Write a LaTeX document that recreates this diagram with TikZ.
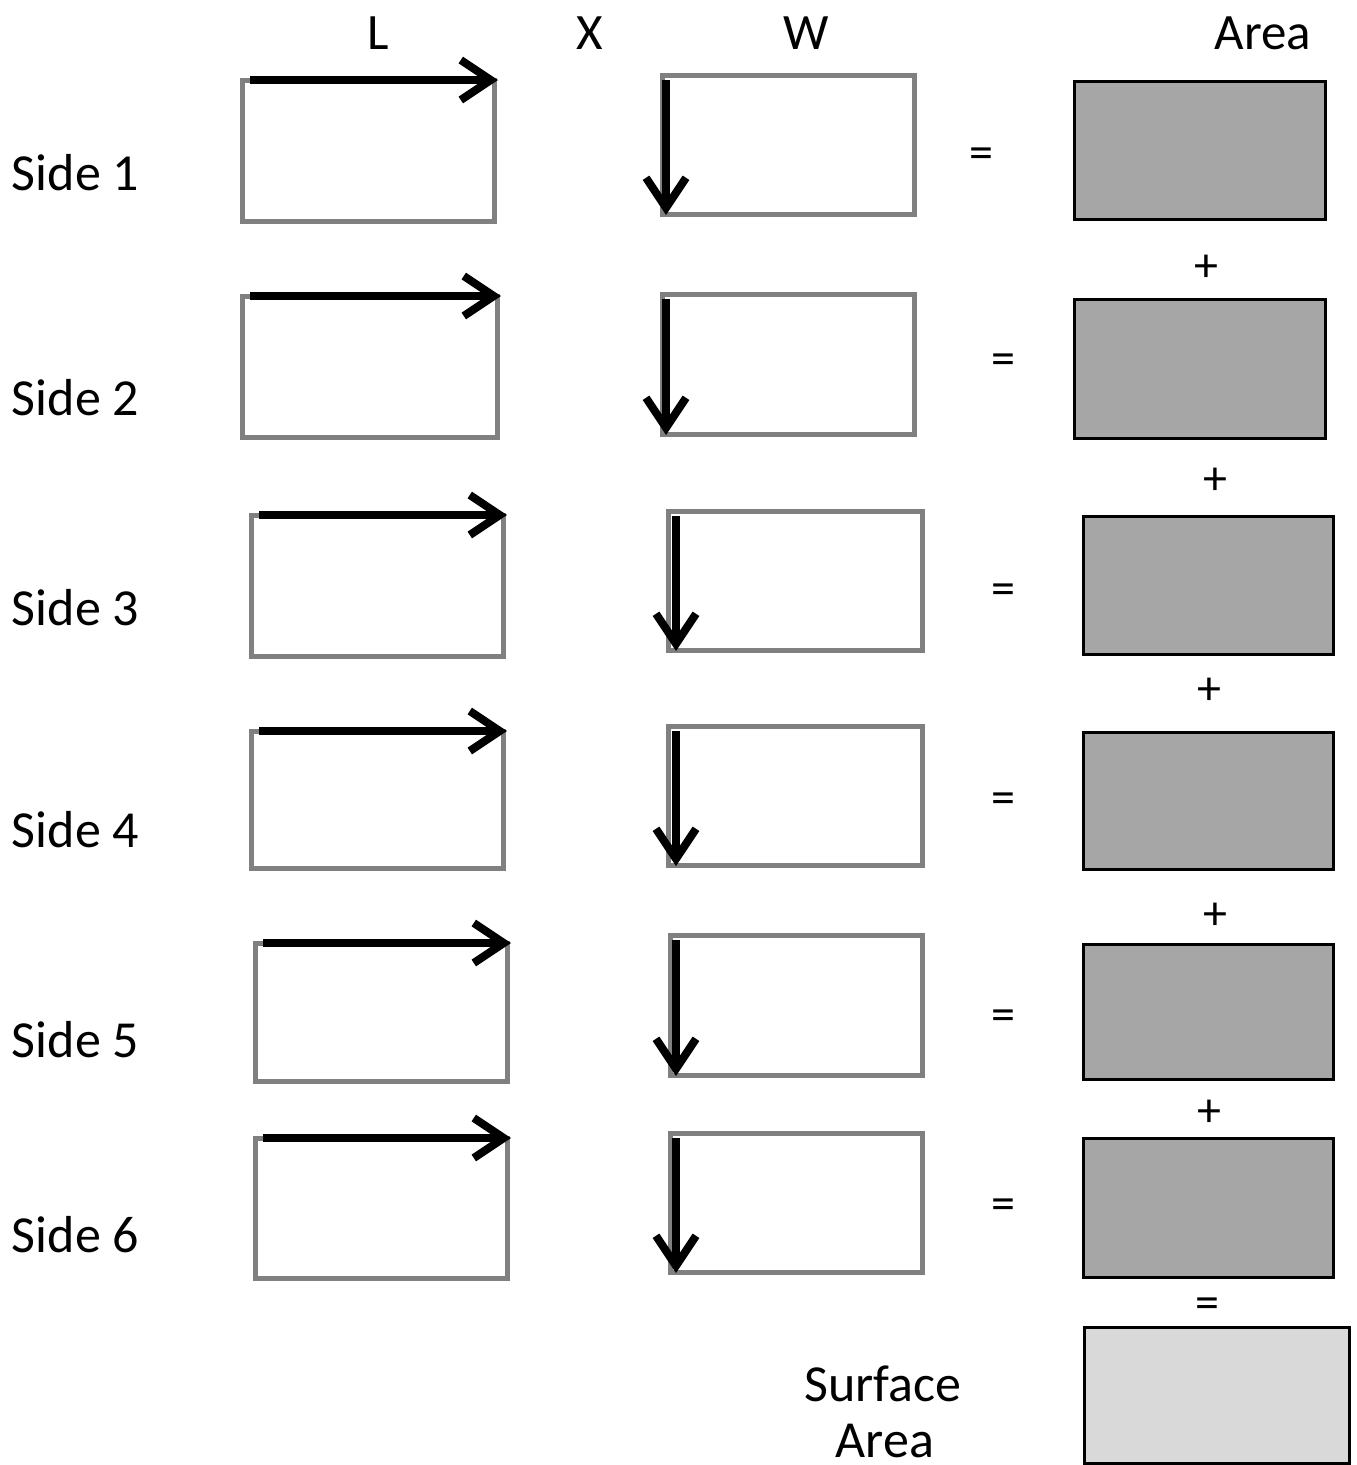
\documentclass[tikz,border=0pt]{standalone}
\usepackage{fontspec}
\setmainfont{Carlito}
\usetikzlibrary{arrows.meta}
\definecolor{framegray}{HTML}{808080}
\definecolor{areafill}{HTML}{A6A6A6}
\definecolor{totalfill}{HTML}{D9D9D9}
\tikzset{
  txt/.style={font=\fontsize{52}{60}\selectfont, inner sep=0pt, outer sep=0pt},
  sign/.style={font=\fontsize{48}{56}\selectfont, inner sep=0pt, outer sep=0pt},
  framebox/.style={draw=framegray, line width=5pt, fill=white, inner sep=0pt, outer sep=0pt},
  areabox/.style={draw=black, line width=3pt, fill=areafill, inner sep=0pt, outer sep=0pt},
  totalbox/.style={draw=black, line width=3pt, fill=totalfill, inner sep=0pt, outer sep=0pt},
  dimarrow/.style={draw=black, line width=8pt, -{Straight Barb[length=30pt, width=40pt, line width=8pt]}},
}
% rectangle node given by its corners
\newcommand{\cornerbox}[6]{%
  \node[#1, minimum width={(#4)-(#2)}, minimum height={(#5)-(#3)}] (#6)
    at ({((#2)+(#4))/2}, {((#3)+(#5))/2}) {};}
\begin{document}
\begin{tikzpicture}[x=1pt, y=-1pt]
\useasboundingbox (0,0) rectangle (1357,1465);

% column headings
\node[txt, font=\fontsize{51}{60}\selectfont, anchor=base] (hL) at (378,49) {L};
\node[txt, font=\fontsize{51}{60}\selectfont, anchor=base] (hX) at (590,49) {X};
\node[txt, font=\fontsize{51}{60}\selectfont, anchor=base] (hW) at (806,49) {W};
\node[txt, font=\fontsize{51}{60}\selectfont, anchor=base] (hA) at (1263,49) {Area};

% one row per side:
% label baseline / length box / width box / width arrow x / "=" / area box / operator below
\foreach \n/\lab/\lxa/\lya/\lxb/\lyb/\mxa/\mya/\mxb/\myb/\wx/\ex/\ey/\axa/\aya/\axb/\ayb/\op/\ox/\oy in {
  1/190/242/80/494/221/662/75/914/214/666/981/158/1074/81/1325/219/+/1206/268,
  2/415/242/296/497/437/662/294/914/434/666/1003/364/1074/299/1325/438/+/1215/481,
  3/625/251/515/503/656/668/511/922/650/676/1003/594/1083/516/1333/654/+/1209/691,
  4/847/251/731/503/868/668/726/922/865/676/1003/803/1083/732/1333/869/+/1215/916,
  5/1057/255/943/507/1081/670/935/922/1075/676/1003/1020/1083/944/1333/1079/+/1209/1113,
  6/1252/255/1138/507/1278/670/1133/922/1272/676/1003/1209/1083/1138/1333/1277/=/1207/1308}
{
  \node[txt, anchor=base west] (side\n) at (12,\lab) {Side \n};
  \cornerbox{framebox}{\lxa}{\lya}{\lxb}{\lyb}{len\n}
  \cornerbox{framebox}{\mxa}{\mya}{\mxb}{\myb}{wid\n}
  \cornerbox{areabox}{\axa}{\aya}{\axb}{\ayb}{area\n}
  \coordinate (wtop\n) at (\wx,{\mya+5});
  \coordinate (wend\n) at (\wx,{\myb+1});
  \draw[dimarrow] ([xshift=8pt]len\n.north west) -- ([xshift=4pt]len\n.north east);
  \draw[dimarrow] (wtop\n) -- (wend\n);
  \node[sign] (eq\n) at (\ex,\ey) {=};
  \node[sign] (op\n) at (\ox,\oy) {\op};
}

% total
\cornerbox{totalbox}{1084}{1327}{1349}{1463}{total}
\node[txt, anchor=base] (sa1) at (883,1401) {Surface};
\node[txt, anchor=base] (sa2) at (885,1457) {Area};
\end{tikzpicture}
\end{document}
